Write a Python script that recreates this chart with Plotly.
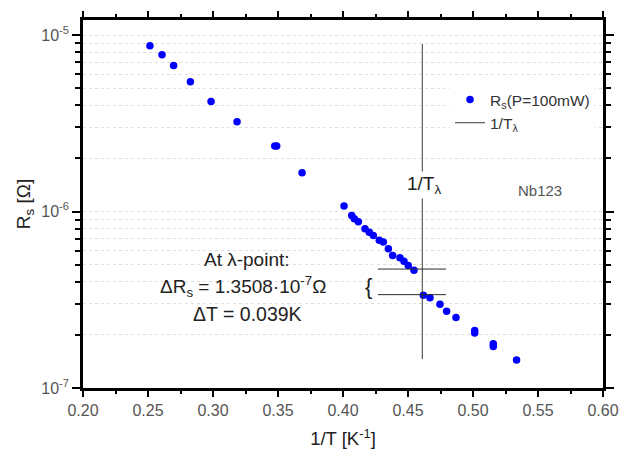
import plotly.graph_objects as go

# ---------------- data ----------------
inv_T = [0.2515, 0.2608, 0.2697, 0.2826, 0.2985, 0.3185, 0.3475, 0.3490, 0.3685,
         0.4008, 0.4067, 0.4087, 0.4118, 0.4169, 0.4202, 0.4233, 0.4279, 0.4310,
         0.4349, 0.4382, 0.4438, 0.4469, 0.4502, 0.4546,
         0.4618, 0.4669, 0.4746, 0.4797, 0.4869, 0.5013, 0.5013, 0.5156, 0.5156, 0.5335]
Rs = [8.70e-6, 7.74e-6, 6.71e-6, 5.44e-6, 4.20e-6, 3.22e-6, 2.35e-6, 2.35e-6, 1.66e-6,
      1.076e-6, 9.48e-7, 9.10e-7, 8.75e-7, 7.98e-7, 7.64e-7, 7.32e-7, 6.88e-7, 6.71e-7,
      6.15e-7, 5.64e-7, 5.47e-7, 5.23e-7, 4.95e-7, 4.65e-7,
      3.35e-7, 3.25e-7, 2.98e-7, 2.72e-7, 2.51e-7, 2.12e-7, 2.05e-7, 1.78e-7, 1.72e-7, 1.44e-7]

lambda_x = [0.461, 0.461]
lambda_y = [8.9e-6, 1.46e-7]

step_x = [0.4269, 0.4792]
step_upper = 4.72e-7
step_lower = 3.38e-7

x_ticks = [0.20, 0.25, 0.30, 0.35, 0.40, 0.45, 0.50, 0.55, 0.60]
x_ticklabels = ["0.20", "0.25", "0.30", "0.35", "0.40", "0.45", "0.50", "0.55", "0.60"]
x_minor = [0.225, 0.275, 0.325, 0.375, 0.425, 0.475, 0.525, 0.575]
y_ticks = [1e-7, 1e-6, 1e-5]
y_ticklabels = ["10<sup>-7</sup>", "10<sup>-6</sup>", "10<sup>-5</sup>"]
y_minor = [m * 10.0 ** e for e in (-7, -6, -5) for m in range(2, 10)]

# ---------------- layout helpers (pixel -> paper) ----------------
L, R, T, B = 83, 603, 20, 388
def PX(px):
    return (px - L) / (R - L)
def PY(py):
    return (B - py) / (B - T)

FONT = "Liberation Sans, Arial, sans-serif"
TICKC = "#555555"
GRIDC = "#dedede"

fig = go.Figure()

fig.add_trace(go.Scatter(
    x=inv_T, y=Rs, mode="markers", name="R<sub>s</sub>(P=100mW)",
    marker=dict(color="#0000ff", size=7.5, line=dict(width=0)),
))
fig.add_trace(go.Scatter(
    x=lambda_x, y=lambda_y, mode="lines", name="1/T<sub>λ</sub>",
    line=dict(color="#3a3a3a", width=1),
))
fig.add_trace(go.Scatter(
    x=step_x + [None] + step_x, y=[step_upper, step_upper, None, step_lower, step_lower],
    mode="lines", showlegend=False, line=dict(color="#2a2a2a", width=1),
))

# white masks that hide grid lines behind text (as in the original)
shapes = []
for (x0, x1, y0, y1) in [(437, 603, 28, 150), (448, 562, 150, 200), (132, 357, 224, 345)]:
    shapes.append(dict(type="rect", xref="paper", yref="paper",
                       x0=PX(x0), x1=PX(x1), y0=PY(y1), y1=PY(y0),
                       fillcolor="white", line=dict(width=0), layer="between"))

ann = []
def add_text(text, px, py, size, color="#222222", bg=None, xanchor="center"):
    d = dict(text=text, x=PX(px), y=PY(py), xref="paper", yref="paper",
             showarrow=False, xanchor=xanchor, yanchor="middle",
             font=dict(family=FONT, size=size, color=color))
    if bg:
        d["bgcolor"] = bg
    ann.append(d)

add_text("At λ-point:", 247, 259, 19)
add_text("ΔR<sub>s</sub> = 1.3508·10<sup>-7</sup>Ω", 243, 286, 19)
add_text("ΔT = 0.039K", 247, 314, 19.5)
add_text("{", 368, 286, 22)
add_text("1/T<sub>λ</sub>", 424, 185, 19, bg="white")
add_text("Nb123", 540, 190, 15, color="#555555")

fig.update_layout(
    width=619, height=450,
    margin=dict(l=L, r=619 - R, t=T, b=450 - B, autoexpand=False),
    paper_bgcolor="white", plot_bgcolor="white",
    font=dict(family=FONT, size=16, color="#222222"),
    shapes=shapes, annotations=ann,
    legend=dict(x=PX(450), y=PY(83), xanchor="left", yanchor="top",
                bgcolor="white", borderwidth=0, tracegroupgap=0,
                font=dict(family=FONT, size=15.5, color="#333333")),
    xaxis=dict(
        automargin=False,
        range=[0.2, 0.6], tickmode="array", tickvals=x_ticks, ticktext=x_ticklabels,
        showline=True, linecolor="black", linewidth=2.5, mirror="ticks",
        ticks="outside", ticklen=6, tickwidth=2, tickcolor="black",
        minor=dict(ticks="outside", ticklen=3, tickwidth=2, tickcolor="black",
                   tickvals=x_minor, showgrid=False),
        showgrid=False, zeroline=False,
        tickfont=dict(family=FONT, size=16, color=TICKC),
        title=dict(text="1/T [K<sup>-1</sup>]", font=dict(family=FONT, size=18.5, color="#222222"),
                   standoff=15),
    ),
    yaxis=dict(
        automargin=False,
        type="log", range=[-7, -4.915], tickmode="array", tickvals=y_ticks, ticktext=y_ticklabels,
        showline=True, linecolor="black", linewidth=2.5, mirror="ticks",
        ticks="outside", ticklen=8, tickwidth=2, tickcolor="black",
        showgrid=True, gridcolor=GRIDC, griddash="dot", gridwidth=1,
        minor=dict(ticks="outside", ticklen=5, tickwidth=2, tickcolor="black",
                   tickvals=y_minor,
                   showgrid=True, gridcolor=GRIDC, griddash="dot", gridwidth=1),
        zeroline=False,
        tickfont=dict(family=FONT, size=16, color=TICKC),
        title=dict(text="R<sub>s</sub> [Ω]", font=dict(family=FONT, size=19, color="#222222"),
                   standoff=6),
    ),
)

fig.write_html("out.html", config={"displayModeBar": False},
               post_script="document.body.style.margin='0';document.body.style.overflow='hidden';")
